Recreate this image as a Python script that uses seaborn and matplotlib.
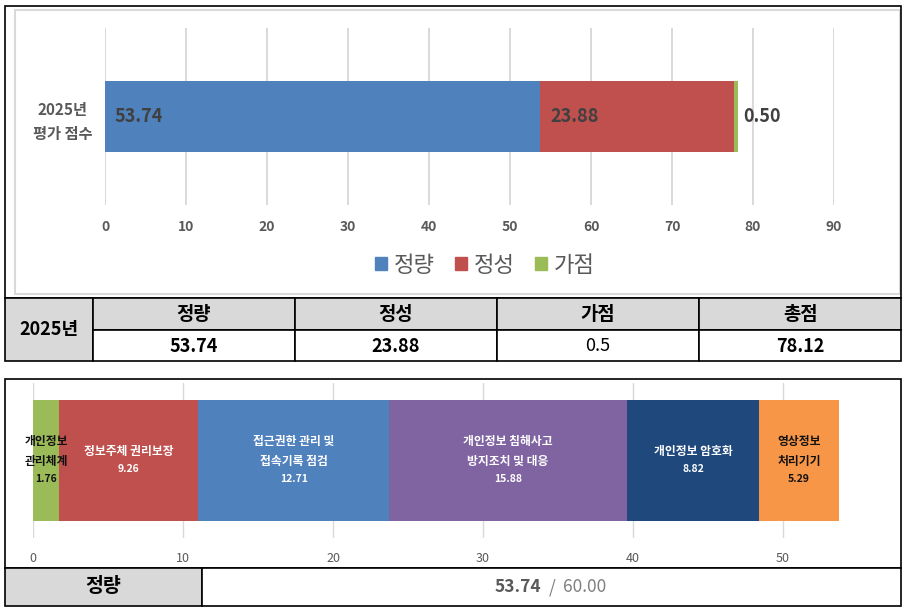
"""
Recreates the 2025 evaluation score summary: a stacked score bar with its
table, and the breakdown of the quantitative score with its own table.
"""

import numpy as np
import seaborn as sns
import matplotlib.pyplot as plt
from matplotlib.patches import Rectangle

# top chart / table
score_parts = ['정량', '정성', '가점']
score_values = [53.74, 23.88, 0.50]
score_colors = ['#4F81BD', '#C0504D', '#9BBB59']
score_row = '2025년\n평가 점수'
year_label = '2025년'
total_label = '총점'
top_ticks = [0, 10, 20, 30, 40, 50, 60, 70, 80, 90]

# bottom chart / table
quant_items = ['개인정보\n관리체계', '정보주체 권리보장', '접근권한 관리 및\n접속기록 점검',
               '개인정보 침해사고\n방지조치 및 대응', '개인정보 암호화', '영상정보\n처리기기']
quant_values = [1.76, 9.26, 12.71, 15.88, 8.82, 5.29]
quant_colors = ['#9BBB59', '#C0504D', '#4F81BD', '#8064A2', '#1F497D', '#F79646']
quant_text_colors = ['#111111', 'white', 'white', 'white', 'white', '#111111']
quant_max = 60.00
bottom_ticks = [0, 10, 20, 30, 40, 50]

W, H = 905, 609
PX = 0.72  # points per pixel at dpi 100


def px_box(left, top, right, bottom):
    return [left / W, 1 - bottom / H, (right - left) / W, (bottom - top) / H]


def stacked_hbar(ax, values, colors, label, width):
    """Draw a stacked horizontal bar by overlapping cumulative bars."""
    cum = np.cumsum(values)
    for end, color in reversed(list(zip(cum, colors))):
        sns.barplot(x=[end], y=[label], orient='h', color=color, width=width,
                    saturation=1, linewidth=0, ax=ax)
    return cum


sns.set_style('white')
plt.rcParams['font.family'] = ['Noto Sans CJK KR', 'DejaVu Sans']

fig = plt.figure(figsize=(W / 100, H / 100), dpi=100)

# ---------------- top chart ----------------
ax1 = fig.add_axes(px_box(105, 28, 834, 205))
cum1 = stacked_hbar(ax1, score_values, score_colors, score_row, 0.4)
ax1.set_xlim(0, 90)
ax1.set_xticks(top_ticks)
ax1.grid(axis='x', color='#d9d9d9', linewidth=1.4)
ax1.set_axisbelow(True)
sns.despine(ax=ax1, left=True, bottom=True)
ax1.set(xlabel='', ylabel='')
ax1.tick_params(axis='x', length=0, pad=11, labelsize=10, labelcolor='#595959')
ax1.tick_params(axis='y', length=0, pad=9, labelsize=11, labelcolor='#595959')
for lbl in ax1.get_xticklabels():
    lbl.set_fontweight('bold')
for lbl in ax1.get_yticklabels():
    lbl.set_fontweight('bold')
    lbl.set_multialignment('center')
    lbl.set_linespacing(1.6)

starts = cum1 - np.array(score_values)
for i, v in enumerate(score_values):
    if i < len(score_values) - 1:
        xy, dx = (starts[i], 0), 7
    else:
        xy, dx = (cum1[i], 0), 4
    ax1.annotate(f'{v:.2f}', xy=xy, xytext=(dx, 0), textcoords='offset points',
                 ha='left', va='center', fontsize=13, fontweight='bold', color='#404040')

handles = [Rectangle((0, 0), 1, 1, color=c) for c in score_colors]
leg = ax1.legend(handles, score_parts, loc='center', ncol=3, frameon=False,
                 bbox_to_anchor=(485 / W, 1 - 265 / H), bbox_transform=fig.transFigure,
                 prop={'size': 16, 'weight': 'medium'}, handlelength=0.55,
                 handleheight=0.55, handletextpad=0.3, columnspacing=0.9)
for t in leg.get_texts():
    t.set_color('#595959')

# ---------------- bottom chart ----------------
ax2 = fig.add_axes(px_box(33, 383, 873, 538))
cum2 = stacked_hbar(ax2, quant_values, quant_colors, score_parts[0], 0.78)
ax2.set_xlim(0, 56)
ax2.set_xticks(bottom_ticks)
ax2.grid(axis='x', color='#d9d9d9', linewidth=1.0)
ax2.set_axisbelow(True)
sns.despine(ax=ax2, left=True, bottom=True)
ax2.set(xlabel='', ylabel='')
ax2.tick_params(axis='x', length=0, pad=10, labelsize=9, labelcolor='#595959')
ax2.tick_params(axis='y', left=False, labelleft=False)

centers = cum2 - np.array(quant_values) / 2
for name, v, cx, tc in zip(quant_items, quant_values, centers, quant_text_colors):
    lines = name.split('\n')
    rel = [i * 20 for i in range(len(lines))]
    num_rel = rel[-1] + 17
    shift = num_rel / 2
    for line, r in zip(lines, rel):
        ax2.annotate(line, xy=(cx, 0), xytext=(0, -(r - shift) * PX),
                     textcoords='offset points', ha='center', va='center',
                     fontsize=8.5, fontweight='bold', color=tc)
    ax2.annotate(f'{v:.2f}', xy=(cx, 0), xytext=(0, -(num_rel - shift) * PX),
                 textcoords='offset points', ha='center', va='center',
                 fontsize=7.5, fontweight='bold', color=tc)

# ---------------- frames and tables ----------------
ov = fig.add_axes([0, 0, 1, 1])
ov.set_xlim(0, W)
ov.set_ylim(H, 0)
ov.axis('off')
ov.patch.set_alpha(0)

LINE = dict(edgecolor='black', linewidth=1.2)
GRAY = '#d9d9d9'

# top frame
ov.add_patch(Rectangle((15, 10), 885, 284, facecolor='none', edgecolor=GRAY, linewidth=1.5))
ov.add_patch(Rectangle((5, 6), 896, 292, facecolor='none', **LINE))

# top table
col_edges = [93, 295, 497, 699, 901]
ov.add_patch(Rectangle((5, 298), 88, 63, facecolor=GRAY, **LINE))
headers = score_parts + [total_label]
total = round(sum(score_values), 2)
values = score_values + [total]
for i in range(4):
    x0, x1 = col_edges[i], col_edges[i + 1]
    ov.add_patch(Rectangle((x0, 298), x1 - x0, 32, facecolor=GRAY, **LINE))
    ov.add_patch(Rectangle((x0, 330), x1 - x0, 31, facecolor='white', **LINE))
    ov.text((x0 + x1) / 2, 314, headers[i], ha='center', va='center',
            fontsize=13.5, fontweight='bold', color='black')
    ov.text((x0 + x1) / 2, 346, f'{values[i]:g}', ha='center', va='center',
            fontsize=13, fontweight='normal' if i == 2 else 'bold', color='black')
ov.text(49, 330, year_label, ha='center', va='center', fontsize=13,
        fontweight='bold', color='black')

# bottom frame
ov.add_patch(Rectangle((5, 379), 896, 189, facecolor='none', **LINE))

# bottom table
ov.add_patch(Rectangle((5, 568), 197, 38, facecolor=GRAY, **LINE))
ov.add_patch(Rectangle((202, 568), 699, 38, facecolor='white', **LINE))
ov.text(103, 587, score_parts[0], ha='center', va='center', fontsize=14,
        fontweight='bold', color='black')
ov.text(541, 587, f'{score_values[0]:.2f}', ha='right', va='center', fontsize=12.5,
        fontweight='bold', color='#595959')
ov.text(552, 587, '/', ha='center', va='center', fontsize=12.5, color='#7f7f7f')
ov.text(563, 587, f'{quant_max:.2f}', ha='left', va='center', fontsize=12.5,
        color='#7f7f7f')

fig.savefig('out.png', dpi=100)
